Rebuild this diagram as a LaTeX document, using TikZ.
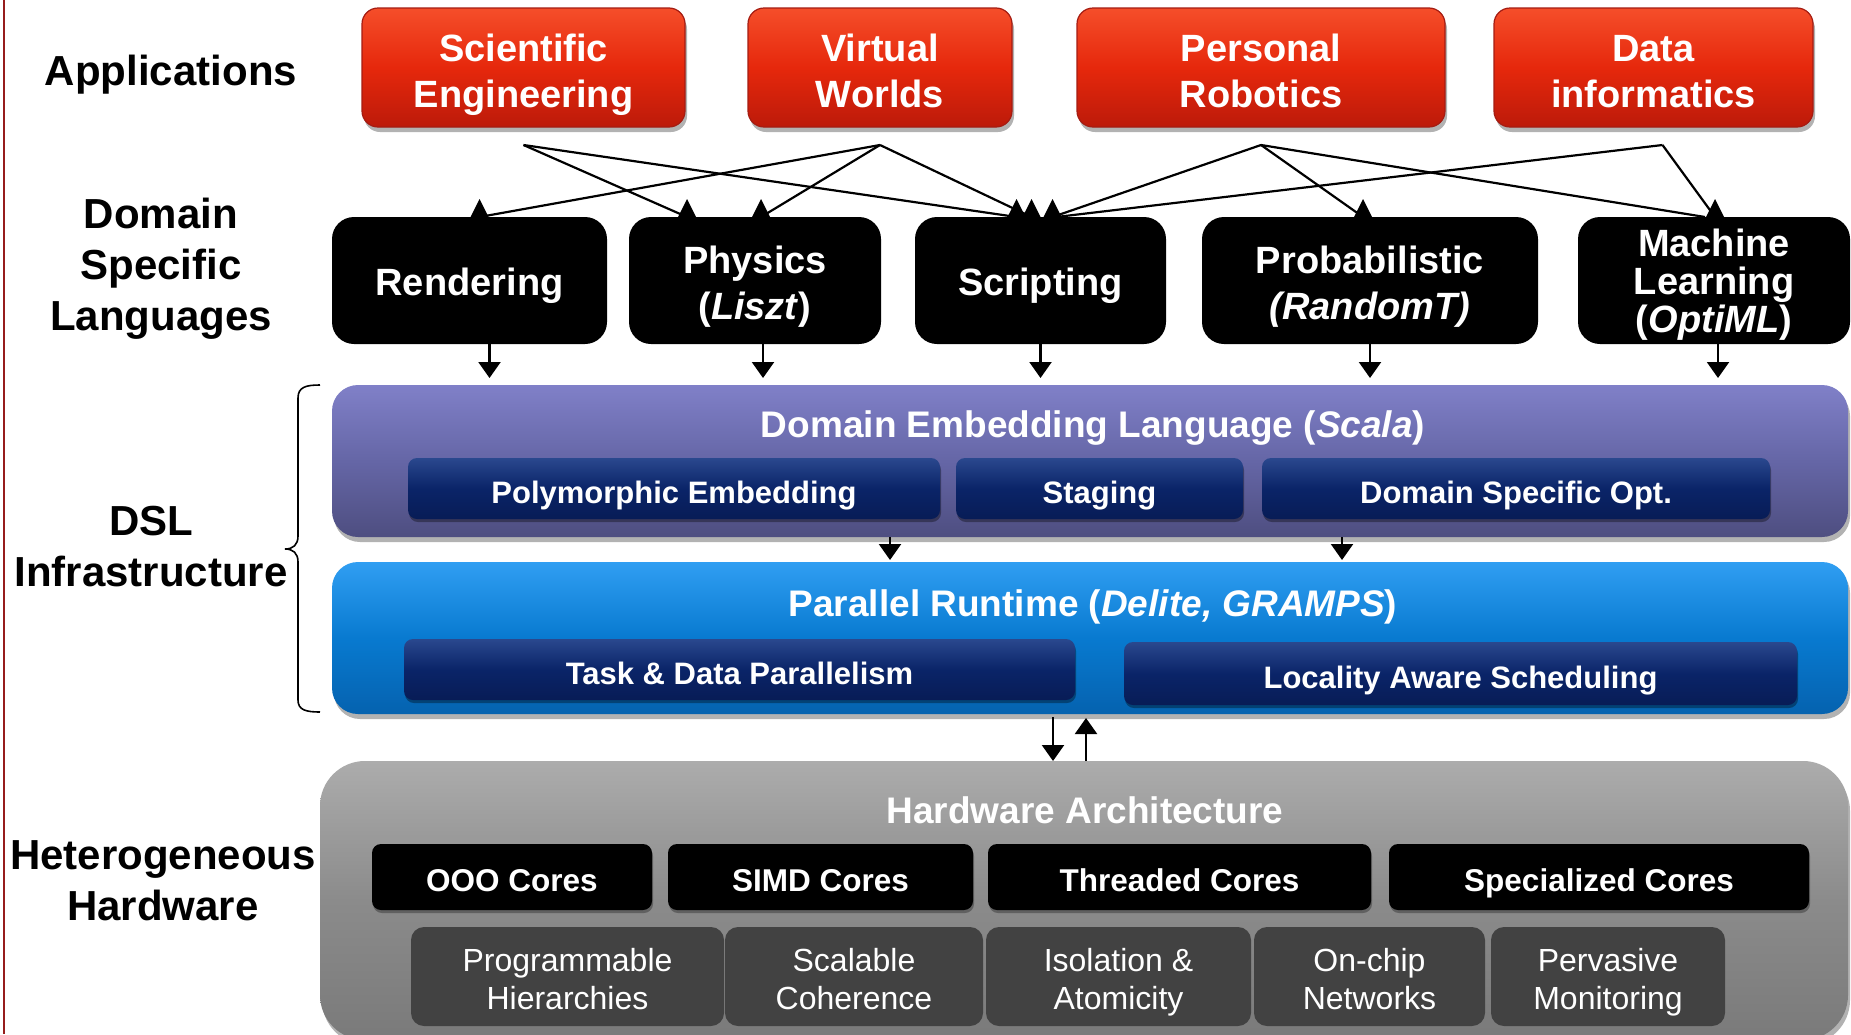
\documentclass[tikz,border=0pt]{standalone}
\usepackage{fontspec}
\setmainfont{Liberation Sans}
\usetikzlibrary{arrows.meta,shadows,calc}

% palette
\definecolor{appTop}{RGB}{245,78,42}
\definecolor{appMid}{RGB}{230,40,12}
\definecolor{appBot}{RGB}{188,26,10}
\definecolor{appEdge}{RGB}{165,28,18}
\definecolor{embTop}{RGB}{128,128,200}
\definecolor{embMid}{RGB}{101,102,166}
\definecolor{embBot}{RGB}{78,78,128}
\definecolor{runTop}{RGB}{48,158,242}
\definecolor{runMid}{RGB}{8,122,208}
\definecolor{runBot}{RGB}{5,98,175}
\definecolor{navyTop}{RGB}{42,72,142}
\definecolor{navyMid}{RGB}{10,36,104}
\definecolor{navyBot}{RGB}{8,28,86}
\definecolor{hwTop}{RGB}{172,172,172}
\definecolor{hwMid}{RGB}{139,139,139}
\definecolor{hwBot}{RGB}{122,122,122}
\definecolor{cellGray}{RGB}{66,66,66}
\definecolor{frameRed}{RGB}{150,28,28}

% centred block of lines; the first argument adds headroom so the
% lines sit a little below the geometric middle of their box
\newcommand\boxtext[2]{\raisebox{0pt}[\dimexpr\height+#1\relax][\depth]{\begin{tabular}{@{}c@{}}#2\end{tabular}}}

\tikzset{
  every node/.style={inner sep=0pt, outer sep=0pt},
  lbl/.style={align=center, font=\bfseries\fontsize{42}{51}\selectfont},
  softshadow/.style={drop shadow={shadow xshift=2pt, shadow yshift=-5pt, opacity=0.3, fill=black}},
  app/.style={rounded corners=16pt, top color=appTop, bottom color=appBot, middle color=appMid,
    draw=appEdge, line width=1.2pt, text=white, minimum height=119pt,
    font=\bfseries\fontsize{38}{46}\selectfont, softshadow},
  dsl/.style={rounded corners=22pt, fill=black, text=white, minimum height=127pt,
    font=\bfseries\fontsize{38}{46}\selectfont},
  layer/.style={rounded corners=26pt, minimum height=152pt, softshadow},
  title/.style={text=white, font=\bfseries\fontsize{37}{44}\selectfont},
  navy/.style={rounded corners=9pt, top color=navyTop, bottom color=navyBot, middle color=navyMid,
    text=white, minimum height=61pt, font=\bfseries\fontsize{31}{37}\selectfont,
    drop shadow={shadow xshift=1pt, shadow yshift=-3pt, opacity=0.35, fill=black}},
  core/.style={rounded corners=9pt, fill=black, text=white, minimum height=66pt,
    font=\bfseries\fontsize{31.5}{37}\selectfont,
    drop shadow={shadow xshift=1pt, shadow yshift=-3pt, opacity=0.3, fill=black}},
  cell/.style={rounded corners=13pt, fill=cellGray, text=white, minimum height=99pt,
    font=\fontsize{32}{38}\selectfont},
  conn/.style={line width=2.2pt},
  arr/.style={conn, -{Triangle[width=22pt,length=16pt]}},
  bracepath/.style={line width=1.6pt},
  uphead/.pic={\fill (-9pt,0pt) -- (9pt,0pt) -- (0pt,18pt) -- cycle;}
}

\begin{document}
\begin{tikzpicture}[x=1pt,y=-1pt]
\useasboundingbox (0,0) rectangle (1851,1034);
\clip (0,0) rectangle (1851,1034);
\fill[white] (0,0) rectangle (1851,1034);

% page rule on the left edge
\draw[frameRed, line width=2.2pt] (4,0) -- (4,1034);

% row labels
\node[lbl] (lApp) at (171,74.5) {Applications};
\node[lbl] (lDsl) at (161,268.5) {Domain\\Specific\\Languages};
\node[lbl] (lInf) at (151,547) {DSL\\Infrastructure};
\node[lbl] (lHw) at (163,880.5) {Heterogeneous\\Hardware};

% brace grouping the two infrastructure layers
\draw[bracepath] (320,385) .. controls (306,385) and (298,387) .. (298,398)
  -- (298,536) .. controls (298,545) and (293,549) .. (285,549)
  .. controls (293,549) and (298,553) .. (298,562)
  -- (298,700) .. controls (298,710) and (306,712) .. (320,712);

% applications
\node[app, minimum width=323pt] (sci) at (523.5,67.5) {\boxtext{16pt}{Scientific\\Engineering}};
\node[app, minimum width=264pt] (vir) at (880,67.5) {\boxtext{16pt}{Virtual\\Worlds}};
\node[app, minimum width=368pt] (per) at (1261,67.5) {\boxtext{16pt}{Personal\\Robotics}};
\node[app, minimum width=319pt] (dat) at (1653.5,67.5) {\boxtext{16pt}{Data\\informatics}};

% domain specific languages
\node[dsl, minimum width=275pt] (ren) at (469.5,280.5) {\boxtext{12pt}{Rendering}};
\node[dsl, minimum width=252pt] (phy) at (755,280.5) {\boxtext{13pt}{Physics\\(\textit{Liszt})}};
\node[dsl, minimum width=251pt] (scr) at (1040.5,280.5) {\boxtext{12pt}{Scripting}};
\node[dsl, minimum width=336pt] (prb) at (1370,280.5) {\boxtext{13pt}{Probabilistic\\\textit{(RandomT)}}};
\node[dsl, minimum width=272pt, font=\bfseries\fontsize{38}{36}\selectfont] (mln) at (1714,280.5)
  {\boxtext{11pt}{Machine\\Learning\\(\textit{OptiML})}};

% embedding language layer
\node[layer, minimum width=1516pt, top color=embTop, bottom color=embBot, middle color=embMid] (emb) at (1090,461) {};
\node[title] (embT) at (1093,428.5) {Domain Embedding Language (\textit{Scala})};
\node[navy, minimum width=532pt] (pe) at (674,488.5) {\boxtext{15pt}{Polymorphic Embedding}};
\node[navy, minimum width=287pt] (st) at (1099.5,488.5) {\boxtext{15pt}{Staging}};
\node[navy, minimum width=508pt] (dso) at (1516,488.5) {\boxtext{15pt}{Domain Specific Opt.}};

% parallel runtime layer
\node[layer, minimum width=1516pt, top color=runTop, bottom color=runBot, middle color=runMid] (run) at (1090,638) {};
\node[title] (runT) at (1093,606.5) {Parallel Runtime (\textit{Delite, GRAMPS})};
\node[navy, minimum width=671pt] (tdp) at (739.5,669.5) {\boxtext{15pt}{Task \& Data Parallelism}};
\node[navy, minimum width=673pt, minimum height=63pt] (las) at (1460.5,673.5) {\boxtext{15pt}{Locality Aware Scheduling}};

% hardware layer
\node[rounded corners=45pt, minimum width=1528pt, minimum height=279pt,
  top color=hwTop, bottom color=hwBot, middle color=hwMid, softshadow] (hw) at (1084,900.5) {};
\node[title] (hwT) at (1085,810) {Hardware Architecture};
\node[core, minimum width=280pt] (ooo) at (512,877) {\boxtext{15pt}{OOO Cores}};
\node[core, minimum width=305pt] (simd) at (820.5,877) {\boxtext{15pt}{SIMD Cores}};
\node[core, minimum width=383pt] (thr) at (1179.5,877) {\boxtext{15pt}{Threaded Cores}};
\node[core, minimum width=420pt] (spc) at (1599,877) {\boxtext{15pt}{Specialized Cores}};
\node[cell, minimum width=313pt] (prg) at (567.5,976.5) {\boxtext{13pt}{Programmable\\Hierarchies}};
\node[cell, minimum width=258pt] (scl) at (854,976.5) {\boxtext{13pt}{Scalable\\Coherence}};
\node[cell, minimum width=265pt] (iso) at (1118.5,976.5) {\boxtext{13pt}{Isolation \&\\Atomicity}};
\node[cell, minimum width=231pt] (onc) at (1369.5,976.5) {\boxtext{13pt}{On-chip\\Networks}};
\node[cell, minimum width=234pt] (pvm) at (1608,976.5) {\boxtext{13pt}{Pervasive\\Monitoring}};

% fan-out points below the applications
\coordinate (sciP) at ([yshift=-18pt]sci.south);
\coordinate (virP) at ([yshift=-18pt]vir.south);
\coordinate (perP) at ([yshift=-18pt]per.south);
\coordinate (datP) at ([xshift=9pt,yshift=-18pt]dat.south);

% entry points on top of the languages
\coordinate (renA) at ([xshift=10pt]ren.north);
\coordinate (phyA1) at ([xshift=-68pt]phy.north);
\coordinate (phyA2) at ([xshift=6pt]phy.north);
\coordinate (scrA1) at ([xshift=-24pt]scr.north);
\coordinate (scrA2) at ([xshift=-9pt]scr.north);
\coordinate (scrA3) at ([xshift=12pt]scr.north);
\coordinate (prbA) at ([xshift=-7pt]prb.north);
\coordinate (mlnA) at ([xshift=1pt]mln.north);

% application -> language links
\draw[conn] (sciP) -- (phyA1);
\draw[conn] (sciP) -- (scrA1);
\draw[conn] (virP) -- (renA);
\draw[conn] (virP) -- (phyA2);
\draw[conn] (virP) -- (scrA2);
\draw[conn] (perP) -- (scrA3);
\draw[conn] (perP) -- (prbA);
\draw[conn] (perP) -- ([xshift=-10pt]mlnA);
\draw[conn] (datP) -- ([xshift=4pt]scrA3);
\draw[conn] (datP) -- (mlnA);
\foreach \t in {renA,phyA1,phyA2,scrA1,scrA2,scrA3,prbA,mlnA}
  \pic at (\t) {uphead};

% languages -> embedding language
\foreach \n/\dx in {ren/20,phy/8,scr/0,prb/0,mln/4}
  \draw[arr, shorten >=7pt] ([xshift=\dx pt]\n.south) -- ([xshift=\dx pt]\n.south |- emb.north);

% embedding language -> runtime
\foreach \dx in {-200,252}
  \draw[arr, shorten >=2pt] ([xshift=\dx pt]emb.south) -- ([xshift=\dx pt]emb.south |- run.north);

% runtime <-> hardware
\draw[arr, shorten <=3pt] ([xshift=-37pt]run.south) -- ([xshift=-37pt]run.south |- hw.north);
\draw[arr, shorten >=4pt] ([xshift=-4pt]run.south |- hw.north) -- ([xshift=-4pt]run.south);
\end{tikzpicture}
\end{document}
